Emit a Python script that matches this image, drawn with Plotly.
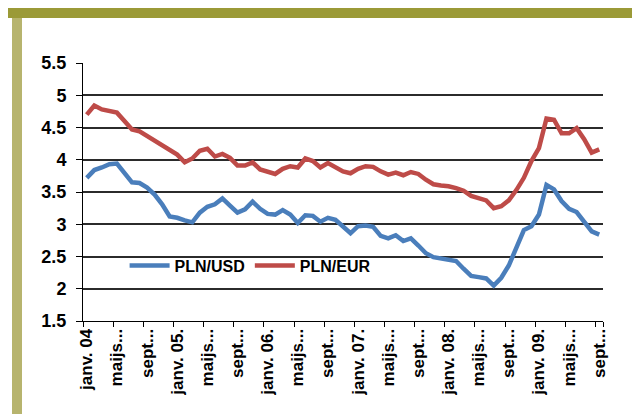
import plotly.graph_objects as go

# monthly rates, Jan 2004 .. Sep 2009
pln_usd = [3.72, 3.84, 3.88, 3.93, 3.94, 3.79, 3.65, 3.64, 3.57, 3.46, 3.31, 3.12,
           3.10, 3.06, 3.03, 3.18, 3.27, 3.31, 3.40, 3.29, 3.18, 3.23, 3.35, 3.24,
           3.16, 3.15, 3.22, 3.15, 3.02, 3.14, 3.13, 3.04, 3.10, 3.07, 2.96, 2.86,
           2.97, 2.98, 2.96, 2.82, 2.78, 2.83, 2.74, 2.78, 2.67, 2.55, 2.49, 2.47,
           2.45, 2.43, 2.31, 2.20, 2.18, 2.16, 2.05, 2.17, 2.36, 2.65, 2.91, 2.97,
           3.15, 3.61, 3.54, 3.36, 3.24, 3.19, 3.05, 2.89, 2.84]
pln_eur = [4.70, 4.84, 4.78, 4.75, 4.73, 4.60, 4.47, 4.44, 4.37, 4.31, 4.24, 4.16,
           4.08, 3.96, 4.02, 4.14, 4.17, 4.05, 4.09, 4.03, 3.91, 3.91, 3.96, 3.85,
           3.81, 3.78, 3.86, 3.90, 3.88, 4.02, 3.98, 3.88, 3.95, 3.88, 3.82, 3.79,
           3.86, 3.90, 3.89, 3.82, 3.77, 3.80, 3.76, 3.81, 3.78, 3.69, 3.62, 3.60,
           3.59, 3.56, 3.52, 3.44, 3.40, 3.37, 3.25, 3.28, 3.37, 3.53, 3.72, 3.98,
           4.18, 4.64, 4.62, 4.41, 4.41, 4.49, 4.32, 4.11, 4.16]
tick_labels = ["janv. 04", "maijs...", "sept...", "janv. 05.", "maijs...", "sept...",
               "janv. 06.", "maijs...", "sept...", "janv. 07.", "maijs...", "sept...",
               "janv. 08.", "maijs...", "sept...", "janv. 09.", "maijs...", "sept..."]
y_ticks = [1.5, 2, 2.5, 3, 3.5, 4, 4.5, 5, 5.5]

months = list(range(len(pln_usd)))
label_pos = months[::4]

W, H = 640, 414
L, R, T, B = 75, 45, 55, 101
pw, ph = W - L - R, H - T - B

def px(x):
    return (x - L) / pw

def py(y):
    return (H - B - y) / ph

font_axis = "Liberation Sans, Arial, sans-serif"

fig = go.Figure()
fig.add_trace(go.Scatter(x=months, y=pln_usd, name="PLN/USD", mode="lines",
                         line=dict(color="#4a7ebb", width=4.5)))
fig.add_trace(go.Scatter(x=months, y=pln_eur, name="PLN/EUR", mode="lines",
                         line=dict(color="#be4b48", width=4.5)))

# frame around the chart
light = "#b7b46e"
dark = "#9b9a37"
shapes = [
    dict(x0=px(0), x1=px(W), y0=py(0), y1=py(10), fillcolor=dark),
    dict(x0=px(4), x1=px(14), y0=py(10), y1=py(H), fillcolor=light),
    dict(x0=px(4), x1=px(W), y0=py(408), y1=py(H), fillcolor=light),
    dict(x0=px(635), x1=px(W), y0=py(10), y1=py(H), fillcolor=light),
]
for s in shapes:
    s.update(type="rect", xref="paper", yref="paper", line=dict(width=0), layer="below")

fig.update_layout(
    width=W, height=H,
    margin=dict(l=L, r=R, t=T, b=B),
    paper_bgcolor="white", plot_bgcolor="white",
    shapes=shapes,
    showlegend=True,
    legend=dict(orientation="h", x=0.08, y=0.215, xanchor="left", yanchor="middle",
                bgcolor="rgba(0,0,0,0)", font=dict(family=font_axis, size=16, color="black", weight="bold"),
                itemwidth=40, tracegroupgap=0),
    xaxis=dict(range=[-0.5, len(months) - 0.5], tickmode="array", tickvals=label_pos,
               ticktext=tick_labels, tickangle=-90, ticks="", showgrid=False, zeroline=False,
               showline=True, linecolor="black", linewidth=1,
               tickfont=dict(family=font_axis, size=17, color="black", weight="bold"),
               minor=dict(tickmode="array",
                          tickvals=[p - 0.5 for p in label_pos] + [len(months) - 0.5],
                          ticks="outside", ticklen=5, tickcolor="black", showgrid=False)),
    yaxis=dict(range=[1.5, 5.5], tickmode="array", tickvals=y_ticks,
               ticktext=[f"{v:g}" for v in y_ticks], ticks="outside", ticklen=6,
               tickcolor="black", showline=True, linecolor="black", linewidth=1,
               showgrid=True, gridcolor="#2b2b2b", gridwidth=1.5, zeroline=False,
               ticklabelstandoff=6,
               tickfont=dict(family=font_axis, size=18, color="black", weight="bold")),
)

fig.write_html("out.html")
